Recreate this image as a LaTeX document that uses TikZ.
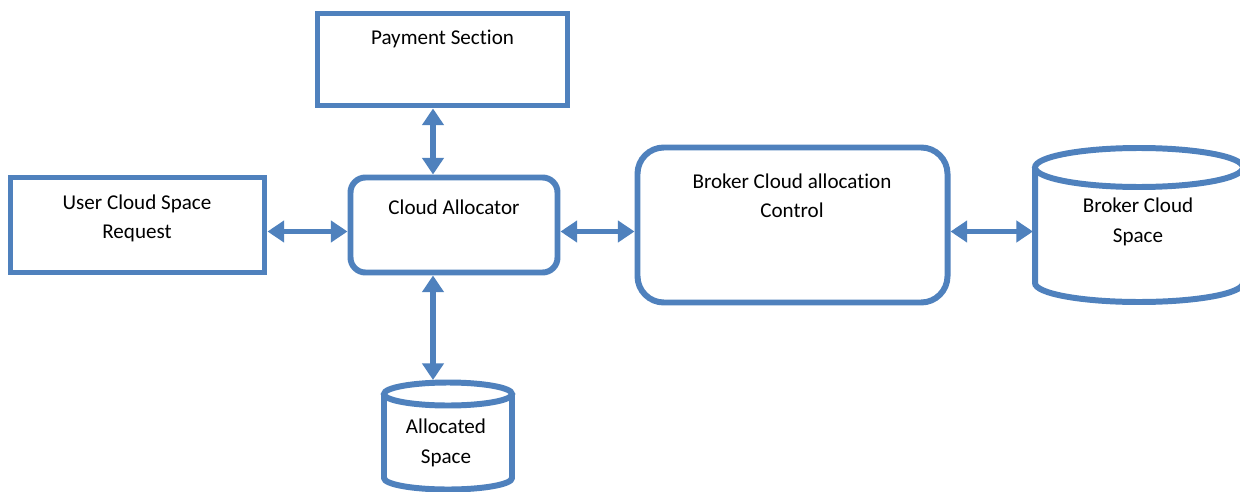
\documentclass[tikz,border=0pt]{standalone}
\usepackage{fontspec}
\setmainfont{Carlito}[Ligatures={NoCommon}]
\usetikzlibrary{arrows.meta}
\definecolor{boxblue}{HTML}{4F81BD}
\tikzset{
  box/.style={draw=boxblue, line width=3.4pt, fill=white, inner sep=0pt},
  rbox/.style={box, rounded corners=8.5pt},
  bigrbox/.style={box, rounded corners=15pt},
  lbl/.style={align=center, font=\fontsize{12}{16.7}\selectfont, inner sep=0pt},
  cyl/.style={draw=boxblue, line width=3.4pt},
  link/.style={draw=boxblue, line width=3.1pt,
    {Triangle[width=12pt,length=9.5pt]}-{Triangle[width=12pt,length=9.5pt]}}
}
\begin{document}
\begin{tikzpicture}[x=0.02cm,y=0.02cm]
\path[use as bounding box, clip] (0,0) rectangle (1240,491);
\fill[white] (0,0) rectangle (1240,491);

% boxes
\node[box, minimum width=250*0.02cm, minimum height=92*0.02cm] (pay) at (442.5,431.5) {};
\node[lbl] (paytxt) at (442.5,452) {Payment Section};

\node[box, minimum width=254*0.02cm, minimum height=95*0.02cm] (user) at (137.5,266) {};
\node[lbl] (usertxt) at (137,272.5) {User Cloud Space\\Request};

\node[rbox, minimum width=207*0.02cm, minimum height=95*0.02cm] (ca) at (454,266) {};
\node[lbl] (catxt) at (454,284) {Cloud Allocator};

\node[bigrbox, minimum width=310*0.02cm, minimum height=155*0.02cm] (bca) at (792.5,266) {};
\node[lbl] (bcatxt) at (792,295.5) {Broker Cloud allocation\\Control};

% broker cloud space cylinder
\draw[cyl] (1139,323.5) ellipse [x radius=104, y radius=19.5];
\draw[cyl] (1035,323.5) -- (1035,208) arc[start angle=180, end angle=360, x radius=104, y radius=19] -- (1243,323.5);
\node[lbl] (bcstxt) at (1138,269) {Broker Cloud\\Space};
\coordinate (bcsleft) at (1033,259.5);

% allocated space cylinder
\draw[cyl] (448,97) ellipse [x radius=64, y radius=11.5];
\draw[cyl] (384,97) -- (384,13) arc[start angle=180, end angle=360, x radius=64, y radius=11.5] -- (512,97);
\node[lbl] (astxt) at (446,48) {Allocated\\Space};
\coordinate (astop) at (433,111);

% connector guides
\coordinate (ah) at (0,259.5);
\coordinate (av) at (433,0);

% connectors
\draw[link] (pay.south -| av) -- (ca.north -| av);
\draw[link] (user.east |- ah) -- (ca.west |- ah);
\draw[link] (ca.east |- ah) -- (bca.west |- ah);
\draw[link] (bca.east |- ah) -- (bcsleft);
\draw[link] (ca.south -| av) -- (astop);
\end{tikzpicture}
\end{document}
